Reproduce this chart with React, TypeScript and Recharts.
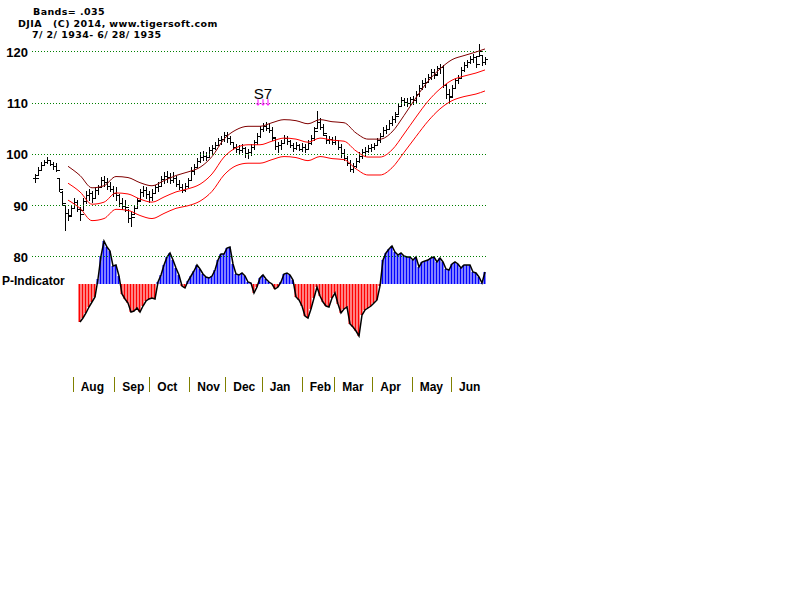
import React from "react";
import {
  ComposedChart,
  Bar,
  Line,
  XAxis,
  YAxis,
  ReferenceLine,
  ReferenceDot,
  Cell,
} from "recharts";

// one bar every ~3 trading days, 7/2/1934 .. 6/28/1935
const highs = [
  96.0, 97.4, 98.5, 98.9, 99.5, 98.9, 98.5, 98.3, 95.4, 92.7,
  90.1, 89.2, 90.1, 91.5, 91.1, 89.6, 91.5, 92.7, 93.1, 92.7,
  93.5, 94.0, 95.6, 95.8, 95.4, 94.6, 93.8, 93.5, 92.1, 91.5,
  91.1, 89.2, 88.8, 90.1, 91.5, 93.1, 93.8, 93.5, 92.7, 93.1,
  94.0, 94.6, 95.8, 96.4, 96.6, 96.2, 96.4, 95.8, 95.0, 94.2,
  94.4, 95.4, 97.4, 98.0, 99.3, 100.3, 100.5, 100.3, 101.3, 101.7,
  102.4, 103.2, 103.6, 104.2, 104.2, 103.6, 102.4, 101.9, 101.7, 101.9,
  101.3, 100.9, 101.9, 102.8, 104.0, 105.4, 106.0, 106.3, 106.0, 105.2,
  103.2, 102.4, 102.8, 103.8, 103.6, 102.8, 102.2, 102.4, 102.0, 102.2,
  101.9, 102.8, 103.8, 105.2, 108.3, 107.1, 105.8, 103.8, 103.6, 103.4,
  103.6, 102.8, 101.9, 100.9, 99.7, 98.9, 98.3, 99.3, 100.3, 100.9,
  101.3, 101.7, 101.9, 102.2, 103.2, 104.0, 105.2, 105.6, 106.7, 107.5,
  108.1, 109.9, 111.2, 111.0, 111.0, 111.2, 111.4, 112.2, 113.4, 114.5,
  114.9, 115.7, 116.5, 116.5, 117.1, 117.5, 117.3, 113.6, 112.6, 113.4,
  114.9, 115.5, 116.9, 117.9, 118.4, 119.2, 119.6, 119.2, 121.4, 119.4,
  119.0,
];
const lows = [
  94.6, 96.0, 97.0, 97.8, 98.3, 97.8, 97.0, 96.6, 92.7, 90.1,
  85.1, 87.2, 88.2, 89.6, 88.8, 87.2, 89.2, 90.5, 91.1, 90.7,
  91.5, 92.1, 93.5, 93.8, 93.1, 92.7, 91.9, 91.1, 89.9, 89.2,
  88.8, 86.8, 85.9, 88.4, 89.6, 91.1, 91.9, 91.5, 90.7, 91.1,
  92.3, 92.7, 93.8, 94.4, 94.6, 94.4, 94.6, 93.8, 93.1, 92.5,
  92.7, 93.5, 95.0, 96.0, 97.4, 98.5, 98.9, 98.9, 99.5, 100.1,
  100.9, 101.7, 102.0, 102.6, 102.4, 101.9, 100.9, 100.3, 100.1, 100.3,
  99.5, 99.3, 99.9, 100.9, 101.9, 103.4, 104.4, 104.6, 104.2, 102.8,
  100.9, 100.3, 100.9, 102.2, 102.0, 101.3, 100.5, 100.9, 100.7, 100.5,
  100.3, 100.9, 101.9, 102.8, 105.2, 104.8, 103.8, 102.2, 102.2, 101.9,
  102.0, 100.9, 99.5, 98.9, 97.8, 96.6, 96.4, 97.4, 98.5, 99.3,
  99.7, 100.3, 100.5, 100.9, 101.7, 102.4, 103.6, 104.0, 104.8, 105.6,
  106.3, 107.9, 109.5, 109.5, 109.3, 109.5, 109.7, 110.2, 111.4, 112.6,
  113.0, 114.1, 114.7, 114.9, 115.7, 115.9, 113.0, 111.0, 110.0, 111.4,
  113.0, 113.8, 114.9, 116.1, 116.9, 117.7, 118.0, 116.9, 119.2, 117.3,
  117.5,
];
const closes = [
  95.5, 97.0, 98.0, 98.5, 99.0, 98.2, 97.8, 96.9, 93.2, 90.6,
  88.5, 88.0, 89.6, 90.8, 89.3, 88.4, 91.0, 92.0, 92.4, 91.5,
  93.0, 93.6, 95.0, 94.6, 93.8, 93.2, 92.5, 92.0, 90.6, 90.0,
  89.8, 87.6, 87.9, 89.5, 91.0, 92.6, 93.0, 92.2, 91.8, 92.5,
  93.6, 93.8, 95.2, 95.8, 95.6, 95.0, 95.4, 94.3, 93.6, 93.0,
  93.8, 95.0, 96.8, 97.6, 98.8, 99.6, 99.8, 99.5, 100.8, 101.2,
  101.9, 102.8, 103.0, 103.8, 103.2, 102.5, 101.4, 101.0, 100.8, 101.2,
  100.2, 100.4, 101.5, 102.4, 103.6, 104.9, 105.5, 105.2, 104.8, 103.4,
  101.6, 101.8, 102.3, 103.3, 102.6, 101.8, 101.2, 101.8, 101.1, 101.5,
  101.0, 102.2, 103.2, 104.6, 106.4, 105.4, 104.2, 102.8, 103.0, 102.4,
  102.8, 101.4, 100.2, 99.4, 98.4, 97.2, 97.8, 98.8, 99.8, 100.4,
  100.6, 101.2, 101.4, 101.8, 102.8, 103.6, 104.8, 105.0, 106.2, 107.0,
  107.6, 109.4, 110.6, 110.2, 110.0, 110.8, 110.6, 111.8, 113.0, 114.0,
  114.2, 115.2, 116.0, 115.6, 116.8, 117.0, 113.6, 111.8, 111.2, 112.9,
  114.5, 115.0, 116.4, 117.4, 118.0, 118.6, 119.0, 117.6, 120.2, 118.0,
  118.6,
];

// P-Indicator, starts in August
const pIndicator = [
  null, null, null, null, null, null, null, null, null, null,
  null, null, null, null, null,
  -38, -34, -29, -23, -18, -13, 5, 28, 43, 37,
  33, 18, 19, 8, -10, -15, -19, -28, -27, -24,
  -28, -22, -17, -15, -14, -15, 2, 9, 19, 27,
  31, 24, 16, 9, -2, -4, 3, 8, 13, 19,
  15, 10, 7, 6, 8, 14, 24, 30, 30, 36,
  37, 20, 10, 9, 11, 8, 2, 1, -9, -3,
  6, 9, 5, 2, 0, -5, -3, 2, 10, 11,
  9, 4, -13, -16, -22, -32, -34, -25, -14, -3,
  -12, -18, -22, -23, -14, -9, -20, -29, -25, -23,
  -40, -43, -47, -52, -31, -26, -24, -22, -19, -16,
  -2, 24, 31, 35, 38, 32, 29, 31, 28, 27,
  27, 24, 27, 17, 22, 23, 24, 26, 27, 22,
  26, 22, 15, 14, 20, 22, 20, 16, 19, 19,
  19, 12, 11, 7, 1, 12,
];

// bands (.035), read at every 4th bar
const bandIdx = [11, 15, 19, 23, 27, 31, 35, 39, 43, 47, 51, 55, 59, 63, 67, 71, 75, 79, 83, 87, 91, 95, 99, 103, 107, 111, 115, 119, 123, 127, 131, 135, 139, 143, 147, 150];
const bandUpper = [97.7, 95.9, 93.5, 93.9, 95.7, 95.5, 94.5, 93.9, 94.9, 95.9, 96.6, 97.5, 99.6, 103.0, 104.8, 105.5, 105.5, 106.2, 106.8, 106.6, 106.0, 106.8, 106.4, 106.2, 104.2, 103.0, 103.0, 104.4, 107.6, 111.1, 114.3, 116.7, 118.5, 119.3, 120.0, 120.6];
const bandMid = [94.4, 92.7, 90.3, 90.7, 92.5, 92.3, 91.3, 90.7, 91.7, 92.7, 93.3, 94.2, 96.2, 99.5, 101.3, 101.9, 101.9, 102.6, 103.2, 103.0, 102.4, 103.2, 102.8, 102.6, 100.7, 99.5, 99.5, 100.9, 104.0, 107.3, 110.4, 112.8, 114.5, 115.3, 115.9, 116.5];
const bandLower = [91.1, 89.5, 87.1, 87.5, 89.3, 89.1, 88.1, 87.5, 88.5, 89.5, 90.0, 90.9, 92.8, 96.0, 97.8, 98.3, 98.3, 99.0, 99.6, 99.4, 98.8, 99.6, 99.2, 99.0, 97.2, 96.0, 96.0, 97.4, 100.4, 103.5, 106.5, 108.9, 110.5, 111.3, 111.8, 112.4];

const monthTicks = [12.57, 26.43, 38.1, 51.43, 63.43, 75.57, 88.9, 99.77, 112.43, 125.57, 138.67];
const monthNames = ["Aug", "Sep", "Oct", "Nov", "Dec", "Jan", "Feb", "Mar", "Apr", "May", "Jun"];
const priceTicks = [80, 90, 100, 110, 120];
const signalIdx = 76;
const signalPrice = 110;

const FONT = "'Liberation Sans', Arial, sans-serif";
const TITLE_FONT = "'DejaVu Sans', Verdana, sans-serif";
const X_DOMAIN = [-1, 151];

const rows = highs.map((h, i) => {
  const b = bandIdx.indexOf(i);
  return {
    i,
    high: h,
    low: lows[i],
    close: closes[i],
    open: i > 0 ? closes[i - 1] : closes[i],
    range: [lows[i], h],
    p: pIndicator[i],
    upper: b >= 0 ? bandUpper[b] : null,
    mid: b >= 0 ? bandMid[b] : null,
    lower: b >= 0 ? bandLower[b] : null,
  };
});

const PriceBar = (props: any) => {
  const { x, y, width, height, payload } = props;
  if (height == null || isNaN(height)) return null;
  const cx = Math.round(x + width / 2) + 0.5;
  const span = payload.high - payload.low || 1;
  const at = (v: number) => {
    const c = Math.min(payload.high, Math.max(payload.low, v));
    return Math.round(y + ((payload.high - c) / span) * height) + 0.5;
  };
  return (
    <g shapeRendering="crispEdges" stroke="#000" strokeWidth={1}>
      <line x1={cx} x2={cx} y1={y - 0.5} y2={y + height + 0.5} />
      <line x1={cx - 2.5} x2={cx} y1={at(payload.open)} y2={at(payload.open)} />
      <line x1={cx} x2={cx + 3} y1={at(payload.close)} y2={at(payload.close)} />
    </g>
  );
};

const MonthTick = (props: any) => {
  const { x, y, payload } = props;
  const k = monthTicks.indexOf(payload.value);
  const lx = Math.round(x) + 0.5;
  return (
    <g>
      <line x1={lx} x2={lx} y1={y} y2={y + 15} stroke="#808000" strokeWidth={1} shapeRendering="crispEdges" />
      <text x={x + 8} y={y + 14} fontSize={12} fontWeight="bold" fill="#000" fontFamily={FONT}>
        {monthNames[k]}
      </text>
    </g>
  );
};

const PriceTick = (props: any) => {
  const { y, payload } = props;
  return (
    <text x={28} y={y + 5} textAnchor="end" fontSize={13} fontWeight="bold" fill="#000" fontFamily={FONT}>
      {payload.value}
    </text>
  );
};

const SignalMark = (props: any) => {
  const { cx, cy } = props;
  return (
    <g>
      <text x={cx} y={cy - 4} textAnchor="middle" fontSize={15} fill="#000" fontFamily={FONT}>
        S7
      </text>
      {[-5, 0, 5].map((d) => (
        <g key={d} stroke="#ff00ff" strokeWidth={1}>
          <line x1={cx + d} x2={cx + d} y1={cy - 4} y2={cy + 2} />
          <line x1={cx + d - 2} x2={cx + d} y1={cy} y2={cy + 2} />
          <line x1={cx + d + 2} x2={cx + d} y1={cy} y2={cy + 2} />
        </g>
      ))}
    </g>
  );
};

export default function App() {
  return (
    <div style={{ position: "absolute", left: 0, top: 0, width: 800, height: 600, background: "#fff" }}>
      {/* P-Indicator pane, same plot box as the price pane */}
      <div style={{ position: "absolute", left: 0, top: 0 }}>
        <ComposedChart
          width={800}
          height={600}
          data={rows}
          margin={{ top: 0, right: 312, bottom: 223, left: 32 }}
        >
          <XAxis dataKey="i" type="number" domain={X_DOMAIN} allowDataOverflow hide />
          <YAxis type="number" domain={[-93, 284]} allowDataOverflow hide />
          <Bar dataKey="p" barSize={2} isAnimationActive={false}>
            {rows.map((r) => (
              <Cell key={r.i} fill={r.p != null && r.p < 0 ? "#ff0000" : "#0000ff"} />
            ))}
          </Bar>
          <Line
            dataKey="p"
            type="linear"
            stroke="#000"
            strokeWidth={1.5}
            dot={false}
            isAnimationActive={false}
          />
        </ComposedChart>
      </div>

      {/* price pane */}
      <div style={{ position: "absolute", left: 0, top: 0 }}>
        <ComposedChart
          width={800}
          height={600}
          data={rows}
          margin={{ top: 0, right: 312, bottom: 193, left: 0 }}
        >
          <XAxis
            dataKey="i"
            type="number"
            domain={X_DOMAIN}
            allowDataOverflow
            ticks={monthTicks}
            interval={0}
            tick={<MonthTick />}
            axisLine={false}
            tickLine={false}
            tickSize={0}
            tickMargin={0}
            height={30}
          />
          <YAxis
            type="number"
            domain={[56.585, 130.146]}
            allowDataOverflow
            ticks={priceTicks}
            interval={0}
            tick={<PriceTick />}
            axisLine={false}
            tickLine={false}
            width={32}
          />

          {priceTicks.map((v) => (
            <ReferenceLine
              key={v}
              y={v}
              stroke="#008000"
              strokeDasharray="1 2"
              shapeRendering="crispEdges"
            />
          ))}

          <Line dataKey="upper" type="monotone" connectNulls stroke="#800000" strokeWidth={1} dot={false} isAnimationActive={false} />
          <Line dataKey="mid" type="monotone" connectNulls stroke="#ff0000" strokeWidth={1} dot={false} isAnimationActive={false} />
          <Line dataKey="lower" type="monotone" connectNulls stroke="#ff0000" strokeWidth={1} dot={false} isAnimationActive={false} />

          <Bar dataKey="range" barSize={3} shape={<PriceBar />} isAnimationActive={false} />

          <ReferenceDot x={signalIdx} y={signalPrice} shape={<SignalMark />} />
        </ComposedChart>
      </div>

      <svg width={800} height={600} style={{ position: "absolute", left: 0, top: 0, pointerEvents: "none" }}>
        <g fontFamily={TITLE_FONT} fontWeight="bold" fontSize={9.5} letterSpacing={0.4} fill="#000">
          <text x={33} y={15}>Bands= .035</text>
          <text x={18} y={26.5} style={{ whiteSpace: "pre" }}>DJIA   (C) 2014, www.tigersoft.com</text>
          <text x={32} y={38} style={{ whiteSpace: "pre" }}>7/ 2/ 1934- 6/ 28/ 1935</text>
        </g>
        <text x={2} y={285} fontFamily={FONT} fontWeight="bold" fontSize={12} fill="#000">
          P-Indicator
        </text>
      </svg>
    </div>
  );
}
